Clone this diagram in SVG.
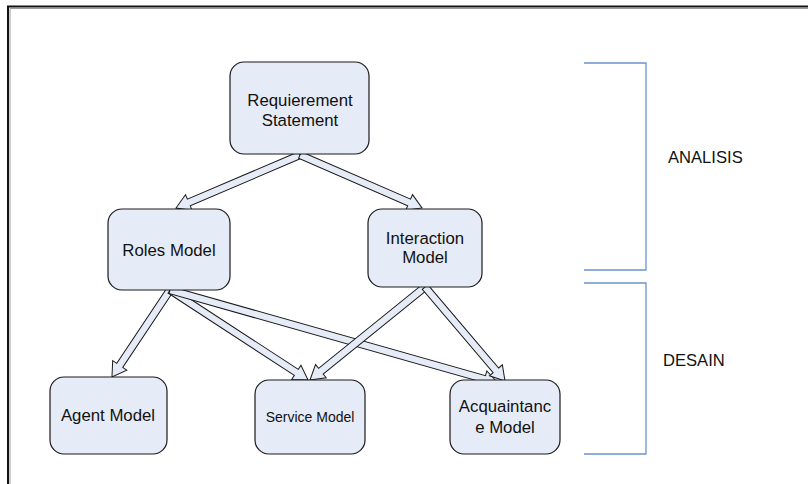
<svg xmlns="http://www.w3.org/2000/svg" width="808" height="484" viewBox="0 0 808 484">
  <style>
    .box { fill: #e6ecf7; stroke: #1a1a1a; stroke-width: 1.2; }
    .lbl { font-family: "Liberation Sans", Arial, sans-serif; font-size: 16.8px; fill: #111; text-anchor: middle; }
    .arrow { fill: #e6ecf7; stroke: #1a1a1a; stroke-width: 1; stroke-linejoin: miter; }
    .brace { fill: none; stroke: #6b93cf; stroke-width: 1.3; }
    .phase { font-family: "Liberation Sans", Arial, sans-serif; font-size: 16.6px; fill: #111; }
  </style>

  <rect width="808" height="484" fill="#fff"/>

  <!-- page frame (top and left edges) -->
  <path d="M8,484 V6.5 H808" fill="none" stroke="#111" stroke-width="2"/>
  <path d="M10,484 V8.5 H808" fill="none" stroke="#9a9a9a" stroke-width="1"/>

  <!-- connectors: block arrows, drawn along +x then rotated into place -->
  <g id="connectors">
    <polygon class="arrow" transform="translate(300,155) rotate(156.86)" points="0,-3.6 120.9,-3.6 120.9,-8.5 134.9,0 120.9,8.5 120.9,3.6 0,3.6"/>
    <polygon class="arrow" transform="translate(300,155) rotate(23.48)" points="0,-3.6 119,-3.6 119,-8.5 133,0 119,8.5 119,3.6 0,3.6"/>
    <polygon class="arrow" transform="translate(170,290) rotate(123.69)" points="0,-3.6 90.6,-3.6 90.6,-8.5 104.6,0 90.6,8.5 90.6,3.6 0,3.6"/>
    <polygon class="arrow" transform="translate(170,290) rotate(33.11)" points="0,-3.6 150.8,-3.6 150.8,-8.5 164.8,0 150.8,8.5 150.8,3.6 0,3.6"/>
    <polygon class="arrow" transform="translate(170,290) rotate(15.83)" points="0,-3.6 326.9,-3.6 326.9,-8.5 340.9,0 326.9,8.5 326.9,3.6 0,3.6"/>
    <polygon class="arrow" transform="translate(425,287) rotate(141.04)" points="0,-3.6 133.9,-3.6 133.9,-8.5 147.9,0 133.9,8.5 133.9,3.6 0,3.6"/>
    <polygon class="arrow" transform="translate(425,287) rotate(49.6)" points="0,-3.6 109.4,-3.6 109.4,-8.5 123.4,0 109.4,8.5 109.4,3.6 0,3.6"/>
  </g>

  <g id="requirement-statement">
    <rect class="box" x="230" y="62" width="139" height="92" rx="14"/>
    <text class="lbl" x="300" y="106">Requierement</text>
    <text class="lbl" x="300" y="126">Statement</text>
  </g>

  <g id="roles-model">
    <rect class="box" x="108" y="209" width="122" height="81" rx="14"/>
    <text class="lbl" x="169" y="256">Roles Model</text>
  </g>

  <g id="interaction-model">
    <rect class="box" x="368" y="209" width="114" height="78" rx="14"/>
    <text class="lbl" x="425" y="244">Interaction</text>
    <text class="lbl" x="425" y="263">Model</text>
  </g>

  <g id="agent-model">
    <rect class="box" x="50" y="377" width="117" height="77" rx="14"/>
    <text class="lbl" x="108" y="421">Agent Model</text>
  </g>

  <g id="service-model">
    <rect class="box" x="255" y="380" width="110" height="74" rx="14"/>
    <text class="lbl" x="310" y="422" style="font-size:14px">Service Model</text>
  </g>

  <g id="acquaintance-model">
    <rect class="box" x="450" y="380" width="110" height="74" rx="14"/>
    <text class="lbl" x="505" y="412">Acquaintanc</text>
    <text class="lbl" x="505" y="433">e Model</text>
  </g>

  <!-- phase brackets -->
  <g id="analisis">
    <path class="brace" d="M584,63 H646 V270 H584"/>
    <text class="phase" x="668" y="163">ANALISIS</text>
  </g>
  <g id="desain">
    <path class="brace" d="M584,283 H646 V454 H584"/>
    <text class="phase" x="663" y="366">DESAIN</text>
  </g>
</svg>
